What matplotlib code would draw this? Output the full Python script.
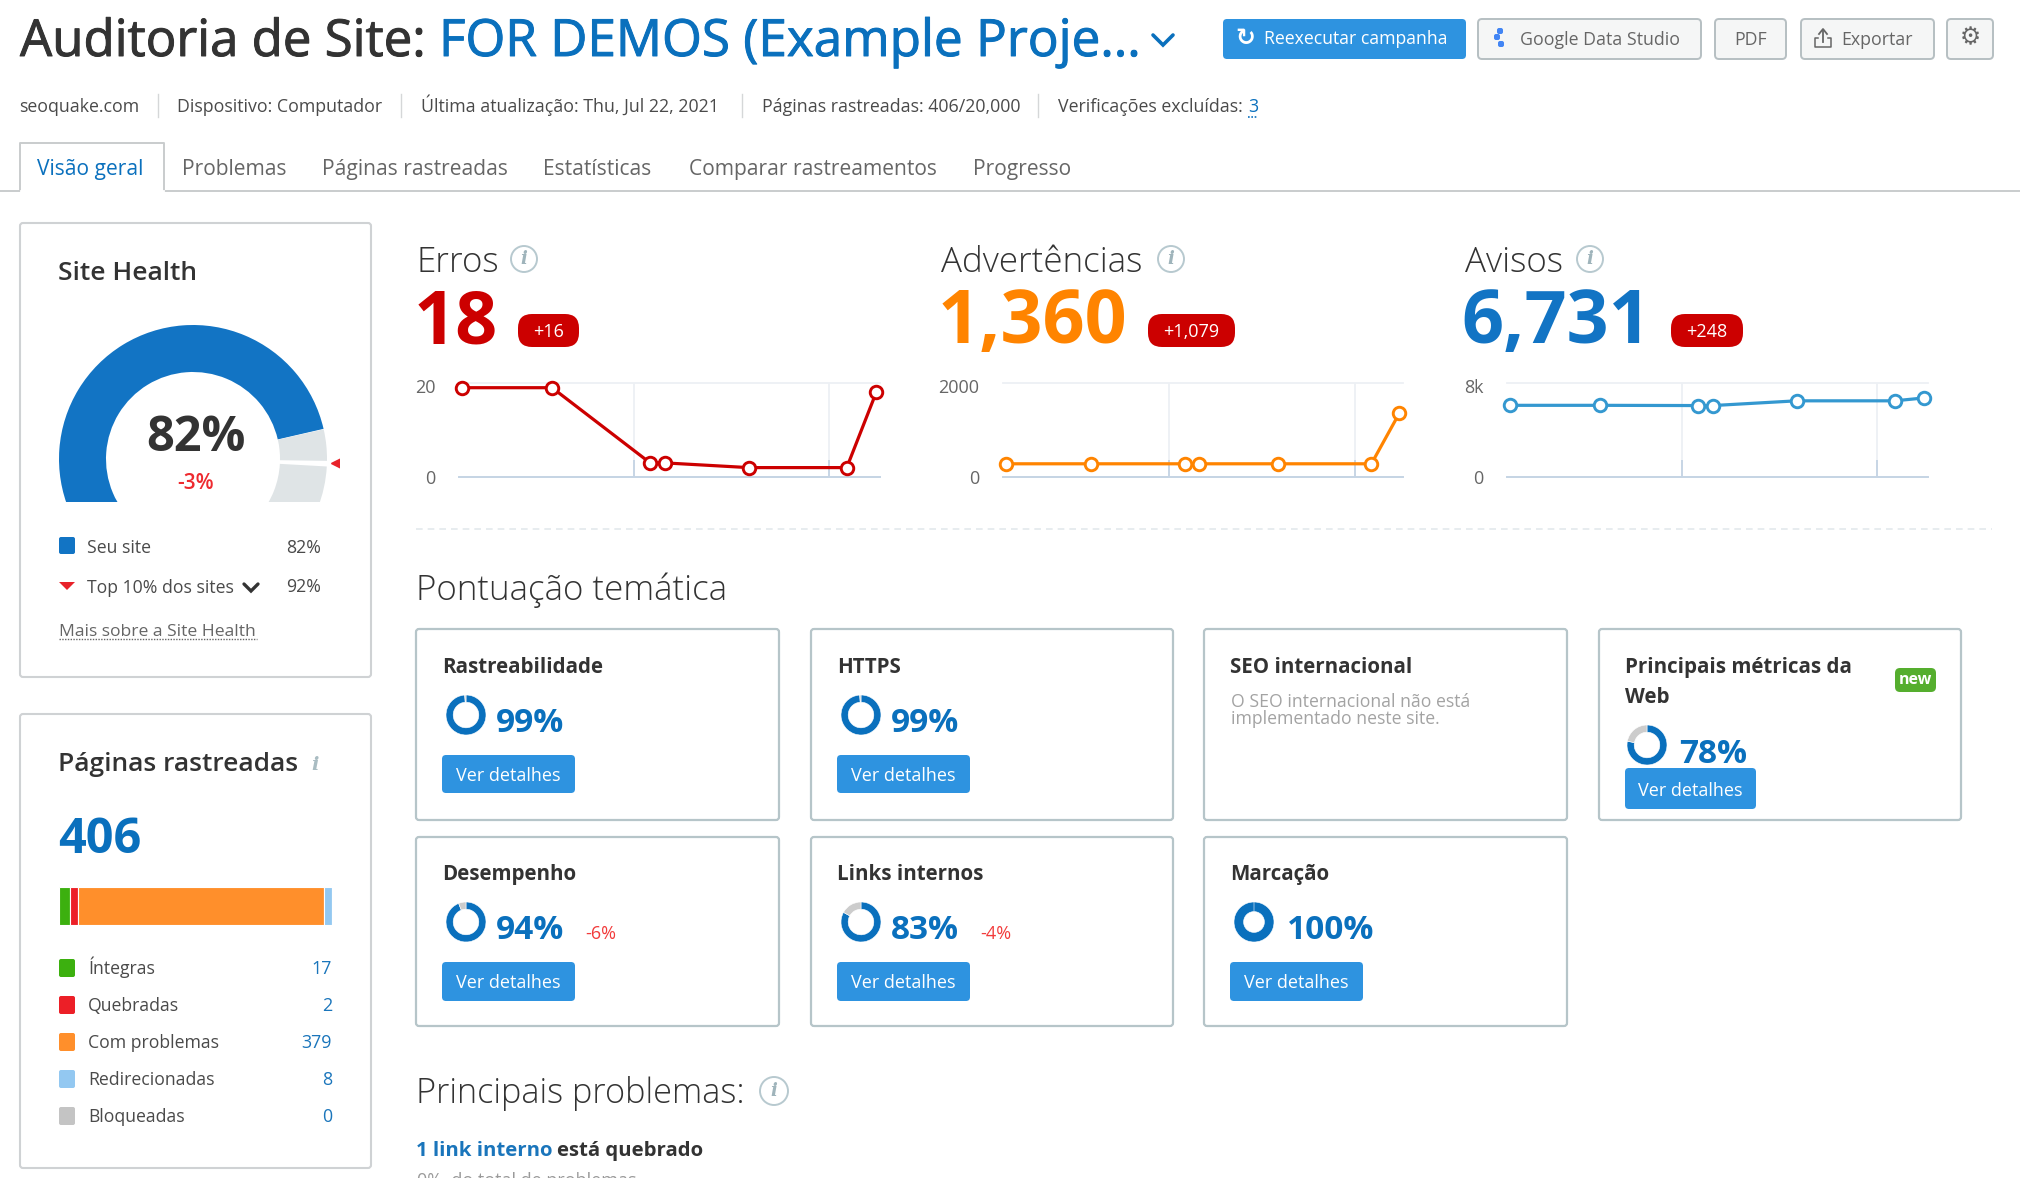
"""Site audit dashboard rebuilt with matplotlib, laid out in pixel coordinates."""

import matplotlib
matplotlib.use("Agg")
import matplotlib.patheffects as pe
import matplotlib.pyplot as plt
import numpy as np
from matplotlib.patches import Circle, FancyBboxPatch, Wedge

W, H = 2020, 1178
plt.rcParams["font.family"] = ["Open Sans", "DejaVu Sans"]

# --- data ---
META_ITEMS = ["seoquake.com", "Dispositivo: Computador",
              "Última atualização: Thu, Jul 22, 2021",
              "Páginas rastreadas: 406/20,000", "Verificações excluídas:"]
TABS = ["Visão geral", "Problemas", "Páginas rastreadas", "Estatísticas",
        "Comparar rastreamentos", "Progresso"]

RUN_X = [0.7, 22.1, 45.4, 48.9, 68.8, 92.1, 99.1]
MONTH_X = [41.6, 87.9]
ERRORS = [19, 19, 3, 3, 2, 2, 18]
WARNINGS = [281, 281, 281, 281, 281, 281, 1360]
NOTICES = [6100, 6100, 6080, 6080, 6483, 6483, 6731]

SITE_HEALTH = 82
TOP_SITES = 92

PAGE_LABELS = ["Íntegras", "Quebradas", "Com problemas", "Redirecionadas", "Bloqueadas"]
PAGE_COUNTS = [17, 2, 379, 8, 0]

THEME_NAMES = ["Rastreabilidade", "HTTPS", "Desempenho", "Links internos", "Marcação"]
THEME_SCORES = [99, 99, 94, 83, 100]
THEME_DELTAS = ["", "", "-6%", "-4%", ""]
CWV_SCORE = 78

# --- colours ---
INK = "#333333"
BODY = "#4a4a4a"
MUTED = "#666666"
BLUE = "#0a70bd"
BUTTON = "#2e93e0"
RED = "#cc0000"
ORANGE = "#ff8400"
PAGE_COLORS = ["#3cb00f", "#ec1f27", "#ff8f2b", "#93c8f1", "#c4c4c4"]
CARD_EDGE = "#b6c5c9"
PANEL_EDGE = "#cfd2d4"

fig = plt.figure(figsize=(W / 100, H / 100), dpi=100, facecolor="white")
ax = fig.add_axes([0, 0, 1, 1])
ax.set_xlim(0, W)
ax.set_ylim(H, 0)
ax.axis("off")


def px_axes(x0, y0, x1, y1):
    """Axes covering a pixel box (y measured from the top of the figure)."""
    return fig.add_axes([x0 / W, 1 - y1 / H, (x1 - x0) / W, (y1 - y0) / H])


def put(x, y, s, size, color=INK, weight="normal", ha="left", va="baseline", **kw):
    return ax.text(x, y, s, fontsize=size, color=color, fontweight=weight, ha=ha, va=va, **kw)


def box(x0, y0, x1, y1, face="white", edge="none", lw=0, r=3, z=1):
    ax.add_patch(FancyBboxPatch((x0, y0), x1 - x0, y1 - y0,
                                boxstyle=f"round,pad=0,rounding_size={r}",
                                fc=face, ec=edge, lw=lw, zorder=z))


def chevron(x0, x1, y0, y1, color, lw):
    ax.plot([x0, (x0 + x1) / 2, x1], [y0, y1, y0], color=color, lw=lw,
            solid_capstyle="round", solid_joinstyle="miter")


def info_icon(x, y, r=13):
    ax.add_patch(Circle((x, y), r, fc="white", ec="#b7c9cf", lw=1.4))
    put(x, y + 0.5, "i", 13, "#9fb4bb", "bold", ha="center", va="center",
        fontstyle="italic", family=["DejaVu Serif"])


# --- header ---
heavy = lambda c: [pe.withStroke(linewidth=0.7, foreground=c)]
put(20, 56, "Auditoria de Site:", 36.7, path_effects=heavy(INK))
put(439, 56, "FOR DEMOS (Example Proje...", 36.9, BLUE, path_effects=heavy(BLUE))
chevron(1153, 1173, 35, 45, BLUE, 2.6)

box(1223, 19, 1466, 59, BUTTON, r=4)
put(1245, 38, "↻", 17, "white", "bold", ha="center", va="center", family=["DejaVu Sans"])
put(1264, 39, "Reexecutar campanha", 12.7, "white", va="center")
for x0, x1 in [(1478, 1701), (1715, 1786), (1801, 1934), (1947, 1993)]:
    box(x0, 19, x1, 59, "#f5f6f6", "#b6bfc2", 1.4, r=4)
for dx, dy in [(1500, 31), (1497, 37), (1501, 44)]:
    box(dx - 3, dy - 3, dx + 3, dy + 3, "#4285f4", r=2, z=3)
put(1520, 40, "Google Data Studio", 12.8, MUTED, va="center")
put(1751, 40, "PDF", 12.8, MUTED, ha="center", va="center")
put(1841, 40, "Exportar", 12.8, MUTED, va="center")
ax.plot([1823, 1823], [30, 42], color=MUTED, lw=1.3)
ax.plot([1819, 1823, 1827], [34, 29, 34], color=MUTED, lw=1.3)
ax.plot([1818, 1815, 1815, 1831, 1831, 1828], [38, 38, 47, 47, 38, 38], color=MUTED, lw=1.1)
put(1970, 37, "⚙", 17, MUTED, "bold", ha="center", va="center", family=["DejaVu Sans"])

meta_x = [19, 177, 421, 762, 1058]
for x, label in zip(meta_x, META_ITEMS):
    put(x, 112, label, 12.8, BODY)
for x in [158, 401, 742, 1038]:
    ax.plot([x, x], [94, 117], color="#d5d7d8", lw=1)
put(1248, 112, "3", 12.8, BLUE)
ax.plot([1248, 1258], [117, 117], color=BLUE, lw=1.2, ls=(0, (1, 1)))

ax.plot([0, 20, 20, 164, 164, W], [191, 191, 143, 143, 191, 191], color="#c9cccd", lw=1.4)
ax.plot([21, 163], [191, 191], color="white", lw=2)
tab_x = [37, 182, 322, 543, 689, 973]
for i, (x, tab) in enumerate(zip(tab_x, TABS)):
    put(x, 175, tab, 15.1, BLUE if i == 0 else MUTED)

# --- site health panel ---
box(20, 223, 371, 677, "white", PANEL_EDGE, 1.5)
put(58, 280, "Site Health", 19, INK, 600)


def gauge_angle(v):
    # the gauge is not linear, angles read at the scale's known positions
    return np.interp(v, [0, SITE_HEALTH, TOP_SITES, 100], [230, 13, -2, -40])


gx = px_axes(50, 320, 339, 502)
gx.set_xlim(50 - 193, 339 - 193)
gx.set_ylim(459 - 502, 459 - 320)
gx.axis("off")
end = gauge_angle(SITE_HEALTH)
top = gauge_angle(TOP_SITES)
gx.add_patch(Wedge((0, 0), 134, end, gauge_angle(0), width=47, fc="#1274c4", ec="none"))
gx.add_patch(Wedge((0, 0), 134, top + 1.2, end - 0.2, width=47, fc="#dfe4e6", ec="none"))
gx.add_patch(Wedge((0, 0), 134, gauge_angle(100), top - 1.2, width=47, fc="#dfe4e6", ec="none"))
gx.plot([147], [-3.5], marker="<", ms=13, color="#e8222a", clip_on=True)

put(196, 451, f"{SITE_HEALTH}%", 35, INK, "bold", ha="center")
put(196, 489, "-3%", 15, "#ee2a2f", 600, ha="center")

box(59, 537, 75, 554, "#1274c4", r=2)
put(87, 553, "Seu site", 12.7, BODY)
put(321, 553, f"{SITE_HEALTH}%", 12.7, BODY, ha="right")
ax.fill([59, 75, 67], [582, 582, 590], color="#e8222a", lw=0)
put(87, 593, "Top 10% dos sites", 12.7, BODY)
chevron(244, 258, 584, 591, INK, 2.4)
put(321, 592, f"{TOP_SITES}%", 12.7, BODY, ha="right")
put(59, 636, "Mais sobre a Site Health", 12.6, MUTED)
ax.plot([59, 257], [639, 639], color=MUTED, lw=1, ls=(0, (1, 1)))

# --- crawled pages panel ---
box(20, 714, 371, 1168, "white", PANEL_EDGE, 1.5)
put(58, 771, "Páginas rastreadas", 19, INK, 600)
put(315, 770, "i", 14, "#a9bcc2", "bold", ha="center", fontstyle="italic", family=["DejaVu Serif"])
put(58, 853, str(sum(PAGE_COUNTS)), 35, BLUE, "bold")

bx = px_axes(59, 887, 332, 925)
shares = np.where(np.array(PAGE_COUNTS) > 0, np.maximum(PAGE_COUNTS, 13), 0)  # tiny groups keep a min width
bx.barh(0, shares, left=np.concatenate([[0], np.cumsum(shares)[:-1]]), height=1,
        color=PAGE_COLORS, edgecolor="white", linewidth=0.8)
bx.set_xlim(0, shares.sum())
bx.set_ylim(-0.5, 0.5)
bx.axis("off")

row_y = [968, 1005, 1042, 1079, 1116]
for y, label, count, color in zip(row_y, PAGE_LABELS, PAGE_COUNTS, PAGE_COLORS):
    box(59, y - 9, 75, y + 9, color, r=2)
    put(88, y + 6, label, 12.7, BODY)
    put(332, y + 6, str(count), 12.9, "#1a75bb", ha="right")


# --- issue trends ---
def trend(x0, x1, values, ymax, labels, color):
    tx = px_axes(x0, 383, x1, 477)
    tx.set_xlim(0, 100)
    tx.set_ylim(0, ymax)
    tx.vlines(MONTH_X, 0, ymax, color="#edf0f4", lw=1.3)
    tx.vlines(MONTH_X, 0, ymax * 0.18, color="#c5d4e4", lw=1.3)
    tx.axhline(ymax, color="#edf0f4", lw=1.3, clip_on=False)
    tx.plot(RUN_X, values, color=color, lw=2.3, marker="o", ms=9, mfc="white",
            mec=color, mew=2.1, clip_on=False, zorder=5)
    for side in ["top", "left", "right"]:
        tx.spines[side].set_visible(False)
    tx.spines["bottom"].set_color("#c5d4e4")
    tx.spines["bottom"].set_linewidth(1.4)
    tx.set_xticks([])
    tx.set_yticks([0, ymax * 0.97], labels)  # top label sits just under the grid line
    tx.tick_params(axis="y", length=0, pad=17, labelsize=13, labelcolor=MUTED)
    tx.patch.set_alpha(0)


kpis = [
    (417, "Erros", 524, 414, "18", RED, (518, 579), "+16", 459, 880, ERRORS, 20, ["0", "20"]),
    (941, "Advertências", 1171, 938, "1,360", ORANGE, (1148, 1235), "+1,079", 1003, 1403, WARNINGS, 2000, ["0", "2000"]),
    (1465, "Avisos", 1590, 1461, "6,731", "#1274c4", (1671, 1743), "+248", 1507, 1928, NOTICES, 8000, ["0", "8k"]),
]
for tx_, name, icon_x, nx, number, color, badge, delta, ax0, ax1, vals, ymax, labs in kpis:
    put(tx_, 272, name, 25.2, INK, 300)
    info_icon(icon_x, 259)
    put(nx, 343, number, 53, color, "bold")
    box(badge[0], 314, badge[1], 347, RED, r=14)
    put(sum(badge) / 2, 332, delta, 13, "white", ha="center", va="center")
    trend(ax0, ax1, vals, ymax, labs, "#3498d0" if name == "Avisos" else color)

ax.plot([416, 1992], [529, 529], color="#e3e9ec", lw=1.2, ls=(0, (4, 3)))

# --- thematic scores ---
put(416, 600, "Pontuação temática", 25.2, INK, 300)


def donut(cx, cy, score, ring=0.36):
    dx = px_axes(cx - 21, cy - 21, cx + 21, cy + 21)
    dx.pie([score, 100 - score], startangle=90, counterclock=False, radius=1,
           colors=[BLUE, "#cccccc"], wedgeprops={"width": ring, "edgecolor": "white", "linewidth": 0.4})
    dx.set_xlim(-1.05, 1.05)
    dx.set_ylim(-1.05, 1.05)


def view_button(x0, y0, x1, y1):
    box(x0, y0, x1, y1, BUTTON, r=4, z=3)
    put((x0 + x1) / 2, (y0 + y1) / 2 + 2, "Ver detalhes", 13, "white", ha="center", va="center", zorder=4)


def card(x0, y0, x1, y1):
    box(x0, y0, x1, y1, "white", CARD_EDGE, 1.6, r=3)


slots = [(416, 779, 629, 820), (811, 1173, 629, 820), (416, 779, 837, 1026),
         (811, 1173, 837, 1026), (1204, 1567, 837, 1026)]
for (x0, x1, y0, y1), name, score, delta in zip(slots, THEME_NAMES, THEME_SCORES, THEME_DELTAS):
    first_row = y0 == 629
    card(x0, y0, x1, y1)
    put(x0 + 26, 673 if first_row else 880, name, 14.8, INK, "bold")
    cy = 715 if first_row else 922
    base = 732 if first_row else 939
    donut(x0 + 50, cy, score, 0.48 if score == 100 else 0.36)
    put(x0 + (83 if score == 100 else 80), base, f"{score}%", 24, BLUE, "bold")
    if delta:
        put(x0 + 169, base, delta, 13, "#f23b3b")
    view_button(x0 + 26, 755 if first_row else 962, x0 + 159, 793 if first_row else 1001)

card(1204, 629, 1567, 820)
put(1230, 673, "SEO internacional", 14.8, INK, "bold")
put(1231, 707, "O SEO internacional não está", 12.7, "#a3a3a3")
put(1231, 724, "implementado neste site.", 12.7, "#a3a3a3")

card(1599, 629, 1961, 820)
put(1625, 673, "Principais métricas da", 14.8, INK, "bold")
put(1625, 703, "Web", 14.8, INK, "bold")
box(1895, 668, 1936, 692, "#55ae2e", r=5)
put(1915.5, 680, "new", 11.5, "white", "bold", ha="center", va="center")
donut(1647, 745, CWV_SCORE)
put(1679, 763, f"{CWV_SCORE}%", 24, BLUE, "bold")
view_button(1625, 768, 1756, 809)

# --- top issues ---
put(416, 1103, "Principais problemas:", 24.7, INK, 300)
info_icon(774, 1091, 14)
put(416, 1156, "1 link interno", 14.7, "#1a75bb", "bold")
put(557, 1156, "está quebrado", 14.7, INK, "bold")
put(417, 1186, "0%  do total de problemas", 13, "#9a9a9a")

fig.savefig("out.png", dpi=100, facecolor="white")
plt.close(fig)
